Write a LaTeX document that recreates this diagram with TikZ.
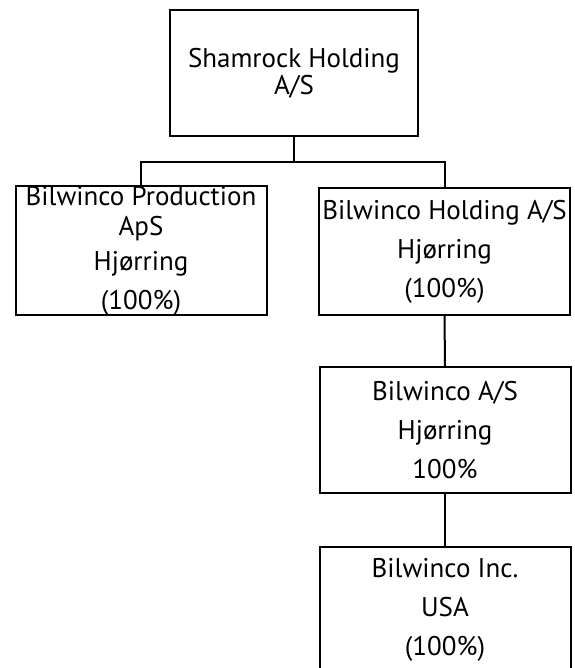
\documentclass[tikz,border=0pt]{standalone}
\usepackage{fontspec}
\setmainfont{PT Sans}
\begin{document}
\begin{tikzpicture}[x=1pt,y=-1pt,
  box/.style={draw, line width=2pt, inner sep=0pt, align=center,
    minimum width=251pt, minimum height=126pt,
    font=\fontsize{27}{39}\selectfont},
  link/.style={line width=2pt}]
\useasboundingbox (0,0) rectangle (574,668);
\node[box, minimum width=248pt, font=\fontsize{27}{27}\selectfont] (top) at (294,73) {Shamrock Holding\\A/S};
\node[box, minimum height=125pt] (prod) at (141,250.5) {Bilwinco Production\\[-9pt]ApS\\[-4pt]Hjørring\\[0pt](100\%)};
\node[box, minimum height=127pt] (hold) at (444.5,251.5) {Bilwinco Holding A/S\\Hjørring\\(100\%)};
\node[box] (bas) at (445,430) {Bilwinco A/S\\Hjørring\\100\%};
\node[box] (inc) at (445,610) {Bilwinco Inc.\\USA\\(100\%)};
\coordinate (j) at (294,162);
\draw[link] (top.south) -- (j);
\draw[link] (prod.north) |- (j) -| (hold.north);
\draw[link] (hold.south) -- (bas.north);
\draw[link] (bas.south) -- (inc.north);
\end{tikzpicture}
\end{document}
